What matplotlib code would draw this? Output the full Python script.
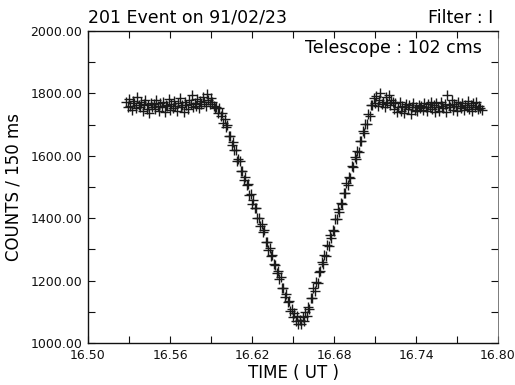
import numpy as np
import matplotlib
matplotlib.use("Agg")
import matplotlib.pyplot as plt
from matplotlib.ticker import MultipleLocator, FormatStrFormatter

# ---- data ----
t_start = 16.528      # UT hours of first sample
t_step = 0.001        # UT hours between plotted samples
counts = [
    # pre-event plateau
    1772, 1755, 1781, 1760, 1748, 1776, 1769, 1752, 1790, 1763,
    1758, 1771, 1745, 1766, 1779, 1750, 1762, 1738, 1770, 1757,
    1765, 1749, 1778, 1761, 1743, 1768, 1755, 1772, 1740, 1763,
    1759, 1781, 1747, 1766, 1753, 1775, 1760, 1744, 1769, 1786,
    1756, 1764, 1741, 1773, 1762, 1750, 1779, 1767, 1795, 1758,
    1770, 1761, 1783, 1752, 1776, 1766, 1788, 1771, 1760, 1798,
    1779, 1767, 1785, 1772, 1761, 1754,
    # ingress
    1758, 1738, 1753, 1729, 1736, 1704, 1717, 1691, 1699, 1663,
    1664, 1634, 1645, 1619, 1618, 1583, 1591, 1583, 1552, 1550,
    1523, 1531, 1505, 1510, 1475, 1476, 1445, 1457, 1433, 1434,
    1401, 1402, 1374, 1380, 1356, 1361, 1325, 1325, 1297, 1306,
    1279, 1283, 1252, 1249, 1223, 1232, 1205, 1210, 1176, 1176,
    1146, 1156, 1133, 1135, 1103, 1109, 1082, 1095, 1072, 1086,
    1060, 1073,
    # egress
    1061, 1082, 1072, 1098, 1087, 1115, 1110, 1144, 1145, 1177,
    1168, 1196, 1193, 1228, 1231, 1259, 1253, 1281, 1278, 1314,
    1312, 1345, 1338, 1363, 1360, 1397, 1397, 1428, 1420, 1450,
    1447, 1480, 1482, 1514, 1505, 1533, 1530, 1566, 1564, 1595,
    1590, 1616, 1613, 1649, 1649, 1680, 1672, 1703, 1701, 1734,
    1729, 1762, 1763,
    # post-event plateau
    1785, 1768, 1792, 1760, 1779, 1801, 1766, 1774, 1758, 1788,
    1770, 1795, 1762, 1780, 1772,
    1750, 1768, 1741, 1757, 1773, 1745, 1760, 1738, 1755, 1766,
    1749, 1762, 1735, 1758, 1770, 1747, 1756, 1742, 1764, 1752,
    1761, 1748, 1770, 1755, 1743, 1766, 1758, 1774, 1750, 1762,
    1739, 1768, 1757, 1745, 1771, 1760, 1752, 1766, 1741, 1795,
    1763, 1756, 1778, 1748, 1767, 1759, 1744, 1772, 1761, 1753,
    1769, 1747, 1764, 1758, 1776, 1750, 1762, 1745, 1768, 1757,
    1771, 1749, 1760, 1754, 1747,
]
times = t_start + t_step * np.arange(len(counts))

title_left = "201 Event on 91/02/23"
title_right = "Filter : I"
inset_text = "Telescope : 102 cms"
xlabel = "TIME ( UT )"
ylabel = "COUNTS / 150 ms"

# ---- figure ----
fig = plt.figure(figsize=(5.15, 3.85), dpi=100)
ax = fig.add_axes([88/515, 1-343/385, 410/515, 312/385])

ax.plot(times, counts, linestyle="none", marker="+", markersize=6.5,
        markeredgewidth=1.0, color="#1a1a1a")

ax.set_xlim(16.50, 16.80)
ax.set_ylim(1000, 2000)
ax.xaxis.set_major_locator(MultipleLocator(0.06))
ax.xaxis.set_minor_locator(MultipleLocator(0.03))
ax.yaxis.set_major_locator(MultipleLocator(200))
ax.yaxis.set_minor_locator(MultipleLocator(100))
ax.xaxis.set_major_formatter(FormatStrFormatter("%.2f"))
ax.yaxis.set_major_formatter(FormatStrFormatter("%.2f"))

ax.tick_params(which="both", direction="in", top=True, right=True,
               labelsize=9, colors="#111111")
ax.tick_params(which="major", length=5, width=0.8)
ax.tick_params(which="minor", length=5, width=0.8)
ax.tick_params(axis="x", pad=4)
ax.tick_params(axis="y", pad=4)
for s in ax.spines.values():
    s.set_linewidth(1.0)
    s.set_color("#111111")
ax.spines["right"].set_linewidth(0.6)
ax.spines["right"].set_color("#666666")

ax.set_xlabel(xlabel, fontsize=12, labelpad=2)
ax.set_ylabel(ylabel, fontsize=12, labelpad=6)

fig.text(88/515, 1-17.5/385, title_left, fontsize=12.5, ha="left", va="center")
fig.text(493/515, 1-18/385, title_right, fontsize=12.5, ha="right", va="center")
ax.text(0.961, 0.944, inset_text, transform=ax.transAxes, fontsize=12.5,
        ha="right", va="center")

fig.savefig("out.png", dpi=100)
